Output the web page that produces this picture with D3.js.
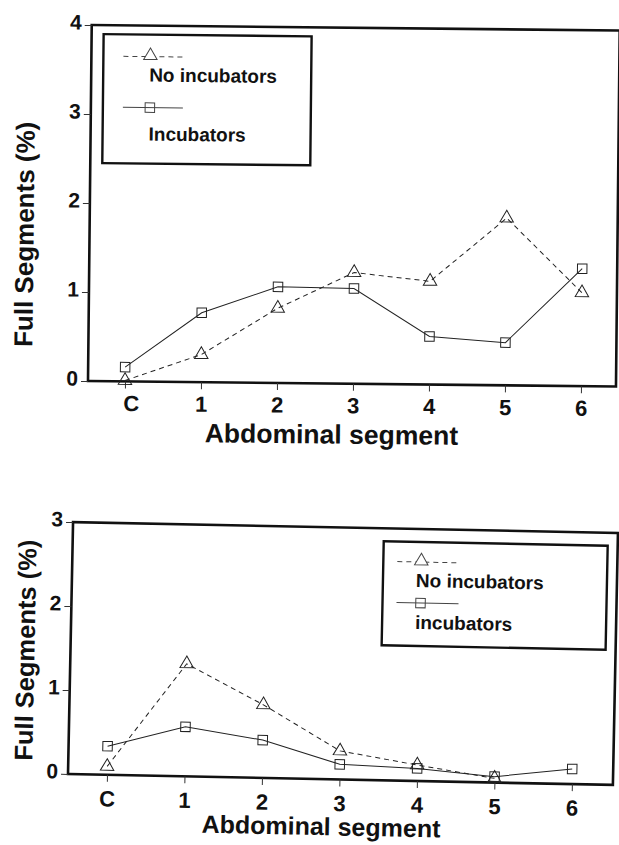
<!DOCTYPE html>
<html>
<head>
<meta charset="utf-8">
<script src="https://cdn.jsdelivr.net/npm/d3@7"></script>
<style>
  html, body { margin: 0; padding: 0; background: #fff; }
  svg { display: block; }
  text { font-family: "Liberation Sans", Arial, Helvetica, sans-serif; font-weight: bold; fill: #111; }
</style>
</head>
<body>
<svg id="chart" width="619" height="845"></svg>
<script>
// Abdominal segments along the x axis
const segments = ["C", "1", "2", "3", "4", "5", "6"];

// Upper panel: full segments (%)
const topNoIncubators = [0.01, 0.31, 0.84, 1.25, 1.16, 1.88, 1.05];
const topIncubators   = [0.16, 0.78, 1.08, 1.07, 0.54, 0.48, 1.32];
const topYTicks = [0, 1, 2, 3, 4];

// Lower panel: full segments (%)
const botNoIncubators = [0.10, 1.34, 0.87, 0.34, 0.19, 0.05, null];
const botIncubators   = [0.34, 0.59, 0.45, 0.18, 0.15, 0.07, 0.18];
const botYTicks = [0, 1, 2, 3];

const svg = d3.select("#chart");
const ink = "#222";

function drawPanel(cfg) {
  const g = svg.append("g")
    .attr("transform", `rotate(${cfg.angle}, ${cfg.left}, ${cfg.bottom})`);

  const x = d3.scaleLinear().domain([0, segments.length - 1]).range([cfg.xFirst, cfg.xLast]);
  const y = d3.scaleLinear().domain([0, cfg.yMax]).range([cfg.bottom, cfg.top]);

  // frame
  g.append("rect")
    .attr("x", cfg.left).attr("y", cfg.top)
    .attr("width", cfg.right - cfg.left).attr("height", cfg.bottom - cfg.top)
    .attr("fill", "none").attr("stroke", "#111").attr("stroke-width", 2.6);

  // y axis
  const yAxis = d3.axisLeft(y).tickValues(cfg.yTicks).tickFormat(d3.format("d"))
    .tickSize(7).tickPadding(3);
  const ya = g.append("g").attr("transform", `translate(${cfg.left},0)`).call(yAxis);
  ya.select(".domain").remove();
  ya.selectAll(".tick line").attr("stroke", "#333").attr("stroke-width", 1);
  ya.selectAll(".tick text")
    .style("font-family", '"Liberation Sans", Arial, sans-serif')
    .style("font-weight", "bold").style("font-size", "21px").attr("fill", "#111")
    .attr("dy", "0.2em");

  // x axis
  const xAxis = d3.axisBottom(x).tickValues(d3.range(segments.length))
    .tickFormat(i => segments[i]).tickSize(7).tickPadding(cfg.xPad);
  const xa = g.append("g").attr("transform", `translate(0,${cfg.bottom})`).call(xAxis);
  xa.select(".domain").remove();
  xa.selectAll(".tick line").attr("stroke", "#333").attr("stroke-width", 1);
  xa.selectAll(".tick text")
    .style("font-family", '"Liberation Sans", Arial, sans-serif')
    .style("font-weight", "bold").style("font-size", "22px").attr("fill", "#111")
    .attr("dx", (d, i) => i === 0 ? cfg.cShift : 0);

  // axis titles
  g.append("text")
    .attr("transform", `translate(${cfg.yTitleX},${cfg.yTitleY}) rotate(-90)`)
    .attr("text-anchor", "middle").style("font-size", cfg.yTitleSize + "px")
    .text("Full Segments (%)");
  g.append("text")
    .attr("x", cfg.xTitleX).attr("y", cfg.xTitleY)
    .attr("text-anchor", "middle").style("font-size", cfg.xTitleSize + "px")
    .text("Abdominal segment");

  const line = d3.line()
    .defined(d => d != null)
    .x((d, i) => x(i)).y(d => y(d));

  const tri = d3.symbol().type(d3.symbolTriangle).size(78);
  const sq = d3.symbol().type(d3.symbolSquare).size(90);

  // series without incubators: dashed, triangles
  g.append("path").datum(cfg.noInc).attr("d", line)
    .attr("fill", "none").attr("stroke", ink).attr("stroke-width", 1)
    .attr("stroke-dasharray", "5,4");
  // series with incubators: solid, squares
  g.append("path").datum(cfg.inc).attr("d", line)
    .attr("fill", "none").attr("stroke", ink).attr("stroke-width", 1);

  g.selectAll(".tri").data(cfg.noInc.map((v, i) => ({ v, i })).filter(d => d.v != null))
    .join("path").attr("class", "tri")
    .attr("transform", d => `translate(${x(d.i)},${y(d.v)})`)
    .attr("d", tri).attr("fill", "none").attr("stroke", ink).attr("stroke-width", 1);
  g.selectAll(".sq").data(cfg.inc.map((v, i) => ({ v, i })))
    .join("path").attr("class", "sq")
    .attr("transform", d => `translate(${x(d.i)},${y(d.v)})`)
    .attr("d", sq).attr("fill", "none").attr("stroke", ink).attr("stroke-width", 1);

  // legend
  const L = cfg.legend;
  g.append("rect").attr("x", L.x).attr("y", L.y).attr("width", L.w).attr("height", L.h)
    .attr("fill", "#fff").attr("stroke", "#111").attr("stroke-width", 2.4);
  g.append("line").attr("x1", L.lx1).attr("x2", L.lx2).attr("y1", L.row1).attr("y2", L.row1)
    .attr("stroke", "#444").attr("stroke-width", 1).attr("stroke-dasharray", "5,4");
  g.append("path").attr("transform", `translate(${L.mx},${L.row1 - 1})`)
    .attr("d", tri).attr("fill", "#fff").attr("stroke", "#444").attr("stroke-width", 1);
  g.append("text").attr("x", L.tx).attr("y", L.text1).style("font-size", L.size + "px")
    .text("No incubators");
  g.append("line").attr("x1", L.lx1).attr("x2", L.lx2).attr("y1", L.row2).attr("y2", L.row2)
    .attr("stroke", "#444").attr("stroke-width", 1);
  g.append("path").attr("transform", `translate(${L.mx},${L.row2})`)
    .attr("d", sq).attr("fill", "none").attr("stroke", "#444").attr("stroke-width", 1);
  g.append("text").attr("x", L.tx).attr("y", L.text2).style("font-size", L.size + "px")
    .text(L.label2);
}

drawPanel({
  angle: 0.6, left: 88, right: 616, top: 25, bottom: 381, yMax: 4, yTicks: topYTicks,
  xFirst: 125, xLast: 581, xPad: 7, cShift: 6,
  noInc: topNoIncubators, inc: topIncubators,
  yTitleX: 32, yTitleY: 235, yTitleSize: 26,
  xTitleX: 332, xTitleY: 441, xTitleSize: 26.5,
  legend: { x: 100, y: 34, w: 208, h: 129, lx1: 120, lx2: 180, mx: 147,
            row1: 56, row2: 107, tx: 146, text1: 81, text2: 140, size: 19, label2: "Incubators" }
});

drawPanel({
  angle: 1.15, left: 68, right: 613, top: 522, bottom: 774, yMax: 3, yTicks: botYTicks,
  xFirst: 107, xLast: 572, xPad: 9, cShift: 0,
  noInc: botNoIncubators, inc: botIncubators,
  yTitleX: 32, yTitleY: 651, yTitleSize: 25.5,
  xTitleX: 322, xTitleY: 830, xTitleSize: 25,
  legend: { x: 379, y: 535, w: 224, h: 104, lx1: 393, lx2: 455, mx: 417,
            row1: 555, row2: 596, tx: 412, text1: 580, text2: 622, size: 19, label2: "incubators" }
});
</script>
</body>
</html>
